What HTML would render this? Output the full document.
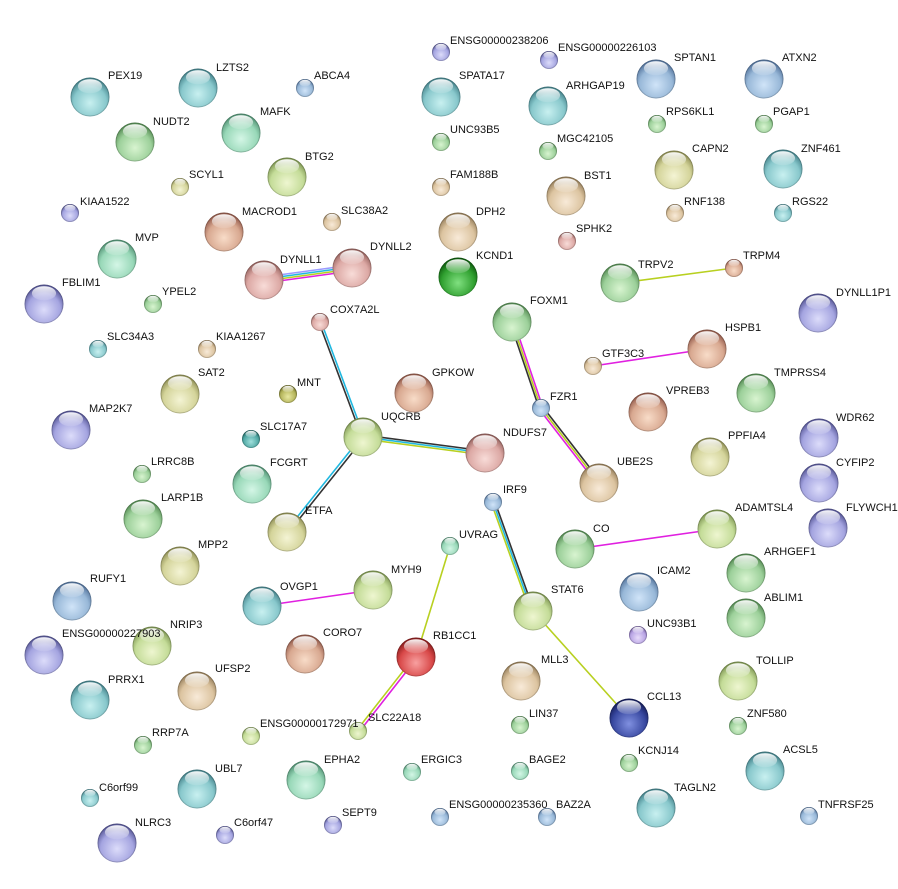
<!DOCTYPE html>
<html><head><meta charset="utf-8"><style>
html,body{margin:0;padding:0;background:#fff;}
svg{display:block;}
text{font-family:"Liberation Sans",sans-serif;font-size:11px;fill:#111;}
</style></head><body>
<svg id="s" width="898" height="889" viewBox="0 0 898 889" xmlns="http://www.w3.org/2000/svg">
<defs>
<linearGradient id="hl" x1="0" y1="0" x2="0" y2="1"><stop offset="0" stop-color="#fff" stop-opacity="0.95"/><stop offset="1" stop-color="#fff" stop-opacity="0.1"/></linearGradient>
<radialGradient id="teal" cx="0.5" cy="0.65" r="0.6"><stop offset="0" stop-color="#c8f0f0"/><stop offset="0.7" stop-color="#88c8cc"/><stop offset="1" stop-color="#4a8890"/></radialGradient>
<radialGradient id="blue" cx="0.5" cy="0.65" r="0.6"><stop offset="0" stop-color="#d0e4f8"/><stop offset="0.7" stop-color="#98b8d8"/><stop offset="1" stop-color="#5878a0"/></radialGradient>
<radialGradient id="green" cx="0.5" cy="0.65" r="0.6"><stop offset="0" stop-color="#d8f4d0"/><stop offset="0.7" stop-color="#9cd09a"/><stop offset="1" stop-color="#5a9058"/></radialGradient>
<radialGradient id="mint" cx="0.5" cy="0.65" r="0.6"><stop offset="0" stop-color="#d4f6e6"/><stop offset="0.7" stop-color="#98d8b8"/><stop offset="1" stop-color="#58987a"/></radialGradient>
<radialGradient id="yellow" cx="0.5" cy="0.65" r="0.6"><stop offset="0" stop-color="#f4f4d4"/><stop offset="0.7" stop-color="#d4d49a"/><stop offset="1" stop-color="#94945a"/></radialGradient>
<radialGradient id="ygreen" cx="0.5" cy="0.65" r="0.6"><stop offset="0" stop-color="#eef6d0"/><stop offset="0.7" stop-color="#c4dc98"/><stop offset="1" stop-color="#849c58"/></radialGradient>
<radialGradient id="tan" cx="0.5" cy="0.65" r="0.6"><stop offset="0" stop-color="#f8ead8"/><stop offset="0.7" stop-color="#dcc4a0"/><stop offset="1" stop-color="#9c8460"/></radialGradient>
<radialGradient id="pink" cx="0.5" cy="0.65" r="0.6"><stop offset="0" stop-color="#f8dcd8"/><stop offset="0.7" stop-color="#dca8a4"/><stop offset="1" stop-color="#9c6864"/></radialGradient>
<radialGradient id="purple" cx="0.5" cy="0.65" r="0.6"><stop offset="0" stop-color="#dcdcfa"/><stop offset="0.7" stop-color="#a4a4e0"/><stop offset="1" stop-color="#5c5c9c"/></radialGradient>
<radialGradient id="lpurple" cx="0.5" cy="0.65" r="0.6"><stop offset="0" stop-color="#e8dcfa"/><stop offset="0.7" stop-color="#b8a4e4"/><stop offset="1" stop-color="#7862a4"/></radialGradient>
<radialGradient id="dgreen" cx="0.5" cy="0.65" r="0.6"><stop offset="0" stop-color="#80e080"/><stop offset="0.7" stop-color="#30a030"/><stop offset="1" stop-color="#106010"/></radialGradient>
<radialGradient id="red" cx="0.5" cy="0.65" r="0.6"><stop offset="0" stop-color="#f8a0a0"/><stop offset="0.7" stop-color="#d84848"/><stop offset="1" stop-color="#902020"/></radialGradient>
<radialGradient id="dblue" cx="0.5" cy="0.65" r="0.6"><stop offset="0" stop-color="#8090e0"/><stop offset="0.7" stop-color="#3848a0"/><stop offset="1" stop-color="#182060"/></radialGradient>
<radialGradient id="olive" cx="0.5" cy="0.65" r="0.6"><stop offset="0" stop-color="#e8e8a0"/><stop offset="0.7" stop-color="#b4b45a"/><stop offset="1" stop-color="#74742a"/></radialGradient>
<radialGradient id="dteal" cx="0.5" cy="0.65" r="0.6"><stop offset="0" stop-color="#a0e0dc"/><stop offset="0.7" stop-color="#50a8a4"/><stop offset="1" stop-color="#206864"/></radialGradient>
<radialGradient id="rbrown" cx="0.5" cy="0.65" r="0.6"><stop offset="0" stop-color="#f8dcc8"/><stop offset="0.7" stop-color="#d8a890"/><stop offset="1" stop-color="#986050"/></radialGradient>
</defs>

<g stroke-width="1.6" fill="none">
<line x1="264" y1="277" x2="352" y2="265" stroke="#9a9aff"/>
<line x1="264" y1="279" x2="352" y2="267" stroke="#20b8e0"/>
<line x1="264" y1="281" x2="352" y2="269" stroke="#b8d020"/>
<line x1="264" y1="283" x2="352" y2="271" stroke="#e020e0"/>
<line x1="318.8" y1="322" x2="361.8" y2="437" stroke="#333"/>
<line x1="321.2" y1="322" x2="364.2" y2="437" stroke="#20b8e0"/>
<line x1="363" y1="435" x2="485" y2="451" stroke="#333"/>
<line x1="363" y1="437" x2="485" y2="453" stroke="#20b8e0"/>
<line x1="363" y1="439" x2="485" y2="455" stroke="#b8d020"/>
<line x1="362" y1="436" x2="286" y2="531" stroke="#20b8e0"/>
<line x1="364" y1="438" x2="288" y2="533" stroke="#333"/>
<line x1="510" y1="322" x2="539" y2="408" stroke="#333"/>
<line x1="512" y1="322" x2="541" y2="408" stroke="#b8d020"/>
<line x1="514" y1="322" x2="543" y2="408" stroke="#e020e0"/>
<line x1="539.5" y1="409.5" x2="597.5" y2="484.5" stroke="#e020e0"/>
<line x1="541" y1="408" x2="599" y2="483" stroke="#b8d020"/>
<line x1="542.5" y1="406.5" x2="600.5" y2="481.5" stroke="#333"/>
<line x1="491" y1="502" x2="530" y2="611" stroke="#b8d020"/>
<line x1="493" y1="502" x2="532" y2="611" stroke="#20b8e0"/>
<line x1="495" y1="502" x2="534" y2="611" stroke="#333"/>
<line x1="620" y1="283" x2="734" y2="268" stroke="#b8d020"/>
<line x1="593" y1="366" x2="707" y2="349" stroke="#e020e0"/>
<line x1="575" y1="549" x2="717" y2="529" stroke="#e020e0"/>
<line x1="262" y1="606" x2="373" y2="590" stroke="#e020e0"/>
<line x1="450" y1="546" x2="416" y2="657" stroke="#b8d020"/>
<line x1="415" y1="656" x2="357" y2="730" stroke="#b8d020"/>
<line x1="417" y1="658" x2="359" y2="732" stroke="#e020e0"/>
<line x1="533" y1="611" x2="629" y2="718" stroke="#b8d020"/>
</g>

<g id="nodes">
<circle cx="90" cy="97" r="19.5" fill="url(#teal)"/>
<circle cx="198" cy="88" r="19.5" fill="url(#teal)"/>
<circle cx="305" cy="88" r="9" fill="url(#blue)"/>
<circle cx="135" cy="142" r="19.5" fill="url(#green)"/>
<circle cx="241" cy="133" r="19.5" fill="url(#mint)"/>
<circle cx="180" cy="187" r="9" fill="url(#yellow)"/>
<circle cx="287" cy="177" r="19.5" fill="url(#ygreen)"/>
<circle cx="70" cy="213" r="9" fill="url(#purple)"/>
<circle cx="224" cy="232" r="19.5" fill="url(#rbrown)"/>
<circle cx="332" cy="222" r="9" fill="url(#tan)"/>
<circle cx="117" cy="259" r="19.5" fill="url(#mint)"/>
<circle cx="264" cy="280" r="19.5" fill="url(#pink)"/>
<circle cx="352" cy="268" r="19.5" fill="url(#pink)"/>
<circle cx="44" cy="304" r="19.5" fill="url(#purple)"/>
<circle cx="153" cy="304" r="9" fill="url(#green)"/>
<circle cx="320" cy="322" r="9" fill="url(#pink)"/>
<circle cx="98" cy="349" r="9" fill="url(#teal)"/>
<circle cx="207" cy="349" r="9" fill="url(#tan)"/>
<circle cx="180" cy="394" r="19.5" fill="url(#yellow)"/>
<circle cx="288" cy="394" r="9" fill="url(#olive)"/>
<circle cx="414" cy="393" r="19.5" fill="url(#rbrown)"/>
<circle cx="71" cy="430" r="19.5" fill="url(#purple)"/>
<circle cx="363" cy="437" r="19.5" fill="url(#ygreen)"/>
<circle cx="251" cy="439" r="9" fill="url(#dteal)"/>
<circle cx="485" cy="453" r="19.5" fill="url(#pink)"/>
<circle cx="142" cy="474" r="9" fill="url(#green)"/>
<circle cx="252" cy="484" r="19.5" fill="url(#mint)"/>
<circle cx="143" cy="519" r="19.5" fill="url(#green)"/>
<circle cx="287" cy="532" r="19.5" fill="url(#yellow)"/>
<circle cx="180" cy="566" r="19.5" fill="url(#yellow)"/>
<circle cx="72" cy="601" r="19.5" fill="url(#blue)"/>
<circle cx="262" cy="606" r="19.5" fill="url(#teal)"/>
<circle cx="373" cy="590" r="19.5" fill="url(#ygreen)"/>
<circle cx="152" cy="646" r="19.5" fill="url(#ygreen)"/>
<circle cx="44" cy="655" r="19.5" fill="url(#purple)"/>
<circle cx="305" cy="654" r="19.5" fill="url(#rbrown)"/>
<circle cx="416" cy="657" r="19.5" fill="url(#red)"/>
<circle cx="197" cy="691" r="19.5" fill="url(#tan)"/>
<circle cx="90" cy="700" r="19.5" fill="url(#teal)"/>
<circle cx="358" cy="731" r="9" fill="url(#ygreen)"/>
<circle cx="251" cy="736" r="9" fill="url(#ygreen)"/>
<circle cx="143" cy="745" r="9" fill="url(#green)"/>
<circle cx="197" cy="789" r="19.5" fill="url(#teal)"/>
<circle cx="306" cy="780" r="19.5" fill="url(#mint)"/>
<circle cx="412" cy="772" r="9" fill="url(#mint)"/>
<circle cx="90" cy="798" r="9" fill="url(#teal)"/>
<circle cx="225" cy="835" r="9" fill="url(#purple)"/>
<circle cx="333" cy="825" r="9" fill="url(#purple)"/>
<circle cx="117" cy="843" r="19.5" fill="url(#purple)"/>
<circle cx="441" cy="52" r="9" fill="url(#purple)"/>
<circle cx="549" cy="60" r="9" fill="url(#purple)"/>
<circle cx="441" cy="97" r="19.5" fill="url(#teal)"/>
<circle cx="548" cy="106" r="19.5" fill="url(#teal)"/>
<circle cx="656" cy="79" r="19.5" fill="url(#blue)"/>
<circle cx="764" cy="79" r="19.5" fill="url(#blue)"/>
<circle cx="441" cy="142" r="9" fill="url(#green)"/>
<circle cx="548" cy="151" r="9" fill="url(#green)"/>
<circle cx="657" cy="124" r="9" fill="url(#green)"/>
<circle cx="764" cy="124" r="9" fill="url(#green)"/>
<circle cx="674" cy="170" r="19.5" fill="url(#yellow)"/>
<circle cx="783" cy="169" r="19.5" fill="url(#teal)"/>
<circle cx="441" cy="187" r="9" fill="url(#tan)"/>
<circle cx="566" cy="196" r="19.5" fill="url(#tan)"/>
<circle cx="675" cy="213" r="9" fill="url(#tan)"/>
<circle cx="783" cy="213" r="9" fill="url(#teal)"/>
<circle cx="458" cy="232" r="19.5" fill="url(#tan)"/>
<circle cx="567" cy="241" r="9" fill="url(#pink)"/>
<circle cx="458" cy="277" r="19.5" fill="url(#dgreen)"/>
<circle cx="620" cy="283" r="19.5" fill="url(#green)"/>
<circle cx="734" cy="268" r="9" fill="url(#rbrown)"/>
<circle cx="512" cy="322" r="19.5" fill="url(#green)"/>
<circle cx="818" cy="313" r="19.5" fill="url(#purple)"/>
<circle cx="707" cy="349" r="19.5" fill="url(#rbrown)"/>
<circle cx="593" cy="366" r="9" fill="url(#tan)"/>
<circle cx="756" cy="393" r="19.5" fill="url(#green)"/>
<circle cx="648" cy="412" r="19.5" fill="url(#rbrown)"/>
<circle cx="541" cy="408" r="9" fill="url(#blue)"/>
<circle cx="819" cy="438" r="19.5" fill="url(#purple)"/>
<circle cx="710" cy="457" r="19.5" fill="url(#yellow)"/>
<circle cx="599" cy="483" r="19.5" fill="url(#tan)"/>
<circle cx="819" cy="483" r="19.5" fill="url(#purple)"/>
<circle cx="493" cy="502" r="9" fill="url(#blue)"/>
<circle cx="828" cy="528" r="19.5" fill="url(#purple)"/>
<circle cx="717" cy="529" r="19.5" fill="url(#ygreen)"/>
<circle cx="450" cy="546" r="9" fill="url(#mint)"/>
<circle cx="575" cy="549" r="19.5" fill="url(#green)"/>
<circle cx="746" cy="573" r="19.5" fill="url(#green)"/>
<circle cx="533" cy="611" r="19.5" fill="url(#ygreen)"/>
<circle cx="639" cy="592" r="19.5" fill="url(#blue)"/>
<circle cx="746" cy="618" r="19.5" fill="url(#green)"/>
<circle cx="638" cy="635" r="9" fill="url(#lpurple)"/>
<circle cx="738" cy="681" r="19.5" fill="url(#ygreen)"/>
<circle cx="521" cy="681" r="19.5" fill="url(#tan)"/>
<circle cx="629" cy="718" r="19.5" fill="url(#dblue)"/>
<circle cx="520" cy="725" r="9" fill="url(#green)"/>
<circle cx="738" cy="726" r="9" fill="url(#green)"/>
<circle cx="765" cy="771" r="19.5" fill="url(#teal)"/>
<circle cx="629" cy="763" r="9" fill="url(#green)"/>
<circle cx="520" cy="771" r="9" fill="url(#mint)"/>
<circle cx="656" cy="808" r="19.5" fill="url(#teal)"/>
<circle cx="440" cy="817" r="9" fill="url(#blue)"/>
<circle cx="547" cy="817" r="9" fill="url(#blue)"/>
<circle cx="809" cy="816" r="9" fill="url(#blue)"/>
</g>
<g id="gloss"></g>

<g>
<text x="108" y="79">PEX19</text>
<text x="216" y="71">LZTS2</text>
<text x="314" y="79">ABCA4</text>
<text x="153" y="125">NUDT2</text>
<text x="260" y="115">MAFK</text>
<text x="189" y="178">SCYL1</text>
<text x="305" y="160">BTG2</text>
<text x="80" y="205">KIAA1522</text>
<text x="242" y="215">MACROD1</text>
<text x="341" y="214">SLC38A2</text>
<text x="135" y="241">MVP</text>
<text x="280" y="263">DYNLL1</text>
<text x="370" y="250">DYNLL2</text>
<text x="62" y="286">FBLIM1</text>
<text x="162" y="295">YPEL2</text>
<text x="330" y="313">COX7A2L</text>
<text x="107" y="340">SLC34A3</text>
<text x="216" y="340">KIAA1267</text>
<text x="198" y="376">SAT2</text>
<text x="297" y="386">MNT</text>
<text x="432" y="376">GPKOW</text>
<text x="89" y="412">MAP2K7</text>
<text x="381" y="420">UQCRB</text>
<text x="260" y="430">SLC17A7</text>
<text x="503" y="436">NDUFS7</text>
<text x="151" y="465">LRRC8B</text>
<text x="270" y="466">FCGRT</text>
<text x="161" y="501">LARP1B</text>
<text x="305" y="514">ETFA</text>
<text x="198" y="548">MPP2</text>
<text x="90" y="582">RUFY1</text>
<text x="280" y="590">OVGP1</text>
<text x="391" y="573">MYH9</text>
<text x="170" y="628">NRIP3</text>
<text x="62" y="637">ENSG00000227903</text>
<text x="323" y="636">CORO7</text>
<text x="433" y="639">RB1CC1</text>
<text x="215" y="672">UFSP2</text>
<text x="108" y="683">PRRX1</text>
<text x="368" y="721">SLC22A18</text>
<text x="260" y="727">ENSG00000172971</text>
<text x="152" y="736">RRP7A</text>
<text x="215" y="772">UBL7</text>
<text x="324" y="763">EPHA2</text>
<text x="421" y="763">ERGIC3</text>
<text x="99" y="791">C6orf99</text>
<text x="234" y="826">C6orf47</text>
<text x="342" y="816">SEPT9</text>
<text x="135" y="826">NLRC3</text>
<text x="450" y="44">ENSG00000238206</text>
<text x="558" y="51">ENSG00000226103</text>
<text x="459" y="79">SPATA17</text>
<text x="566" y="89">ARHGAP19</text>
<text x="674" y="61">SPTAN1</text>
<text x="782" y="61">ATXN2</text>
<text x="450" y="133">UNC93B5</text>
<text x="557" y="142">MGC42105</text>
<text x="666" y="115">RPS6KL1</text>
<text x="773" y="115">PGAP1</text>
<text x="692" y="152">CAPN2</text>
<text x="801" y="152">ZNF461</text>
<text x="450" y="178">FAM188B</text>
<text x="584" y="179">BST1</text>
<text x="684" y="205">RNF138</text>
<text x="792" y="205">RGS22</text>
<text x="476" y="215">DPH2</text>
<text x="576" y="232">SPHK2</text>
<text x="476" y="259">KCND1</text>
<text x="638" y="268">TRPV2</text>
<text x="743" y="259">TRPM4</text>
<text x="530" y="304">FOXM1</text>
<text x="836" y="296">DYNLL1P1</text>
<text x="725" y="331">HSPB1</text>
<text x="602" y="357">GTF3C3</text>
<text x="774" y="376">TMPRSS4</text>
<text x="666" y="394">VPREB3</text>
<text x="550" y="400">FZR1</text>
<text x="836" y="421">WDR62</text>
<text x="728" y="439">PPFIA4</text>
<text x="617" y="465">UBE2S</text>
<text x="836" y="466">CYFIP2</text>
<text x="503" y="493">IRF9</text>
<text x="846" y="511">FLYWCH1</text>
<text x="735" y="511">ADAMTSL4</text>
<text x="459" y="538">UVRAG</text>
<text x="593" y="532">CO</text>
<text x="764" y="555">ARHGEF1</text>
<text x="551" y="593">STAT6</text>
<text x="657" y="574">ICAM2</text>
<text x="764" y="601">ABLIM1</text>
<text x="647" y="627">UNC93B1</text>
<text x="756" y="664">TOLLIP</text>
<text x="541" y="663">MLL3</text>
<text x="647" y="700">CCL13</text>
<text x="529" y="717">LIN37</text>
<text x="747" y="717">ZNF580</text>
<text x="783" y="753">ACSL5</text>
<text x="638" y="754">KCNJ14</text>
<text x="529" y="763">BAGE2</text>
<text x="674" y="791">TAGLN2</text>
<text x="449" y="808">ENSG00000235360</text>
<text x="556" y="808">BAZ2A</text>
<text x="818" y="808">TNFRSF25</text>
</g>
</svg>
<script>
(function(){
var ns="http://www.w3.org/2000/svg";
var g=document.getElementById("gloss");
var cs=document.querySelectorAll("#nodes circle");
for(var i=0;i<cs.length;i++){
 var c=cs[i],x=+c.getAttribute("cx"),y=+c.getAttribute("cy"),r=+c.getAttribute("r");
 var rim=document.createElementNS(ns,"circle");
 rim.setAttribute("cx",x);rim.setAttribute("cy",y);rim.setAttribute("r",r-0.5);
 rim.setAttribute("fill","none");rim.setAttribute("stroke","rgba(0,0,0,0.18)");rim.setAttribute("stroke-width","1");
 g.appendChild(rim);
 var e=document.createElementNS(ns,"ellipse");
 e.setAttribute("cx",x);e.setAttribute("cy",y-r*0.55);e.setAttribute("rx",r*0.62);e.setAttribute("ry",r*0.36);
 e.setAttribute("fill","url(#hl)");
 g.appendChild(e);
}
})();
</script>
</body></html>
